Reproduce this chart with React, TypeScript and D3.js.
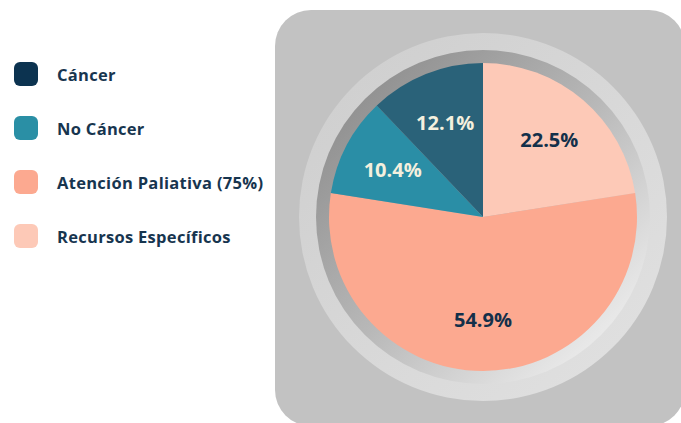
import React from "react";
import * as d3 from "d3";

const categories = ["Recursos Específicos", "Atención Paliativa (75%)", "No Cáncer", "Cáncer"];
const values = [22.5, 54.9, 10.4, 12.1];
const sliceColors = ["#fdc9b7", "#fca990", "#2a8ea6", "#2a6279"];
const labelColors = ["#13304a", "#13304a", "#f4f0de", "#f4f0de"];

const legendItems = ["Cáncer", "No Cáncer", "Atención Paliativa (75%)", "Recursos Específicos"];
const legendColors = ["#0c3350", "#2a8fa5", "#fca990", "#fdc9b7"];

const W = 681;
const H = 423;
const cx = 483;
const cy = 217;
const R = 154;

export default function App() {
  const pie = d3.pie<number>().sort(null).value((d) => d);
  const arcs = pie(values);
  const arc = d3.arc<d3.PieArcDatum<number>>().innerRadius(0).outerRadius(R);
  const labelArc = d3.arc<d3.PieArcDatum<number>>().innerRadius(102).outerRadius(102);
  const legendY = d3.scaleBand<string>().domain(legendItems).range([47, 263]);

  return (
    <svg
      width={W}
      height={H}
      style={{ position: "absolute", left: 0, top: 0, background: "#ffffff" }}
      fontFamily="'Open Sans', sans-serif"
    >
      <defs>
        <linearGradient id="outerRing" x1="0" y1="0" x2="1" y2="1">
          <stop offset="0" stopColor="#cdcdcd" />
          <stop offset="1" stopColor="#e2e2e2" />
        </linearGradient>
        <linearGradient id="innerBand" x1="0.15" y1="0.15" x2="0.85" y2="0.85">
          <stop offset="0" stopColor="#939393" />
          <stop offset="0.5" stopColor="#b8b8b8" />
          <stop offset="1" stopColor="#e8e8e8" />
        </linearGradient>
      </defs>
      <rect x={275} y={10} width={410} height={416} rx={36} fill="#c2c2c2" />
      <circle cx={cx} cy={cy} r={184} fill="url(#outerRing)" />
      <circle cx={cx} cy={cy} r={167} fill="url(#innerBand)" />
      <g transform={`translate(${cx},${cy})`}>
        {arcs.map((a, i) => (
          <path key={categories[i]} d={arc(a) || ""} fill={sliceColors[i]} />
        ))}
        {arcs.map((a, i) => {
          const [x, y] = labelArc.centroid(a);
          return (
            <text
              key={"l" + i}
              x={x}
              y={y}
              textAnchor="middle"
              dominantBaseline="central"
              fontSize={20}
              fontWeight={700}
              fill={labelColors[i]}
            >
              {values[i].toFixed(1)}%
            </text>
          );
        })}
      </g>
      <g>
        {legendItems.map((name, i) => {
          const y = (legendY(name) || 0) + legendY.bandwidth() / 2;
          return (
            <g key={name}>
              <rect x={14} y={y - 12} width={24} height={24} rx={6} fill={legendColors[i]} />
              <text
                x={57}
                y={y}
                dominantBaseline="central"
                fontSize={16.5}
                fontWeight={700}
                fill="#17354f"
                letterSpacing={0.3}
              >
                {name}
              </text>
            </g>
          );
        })}
      </g>
    </svg>
  );
}
